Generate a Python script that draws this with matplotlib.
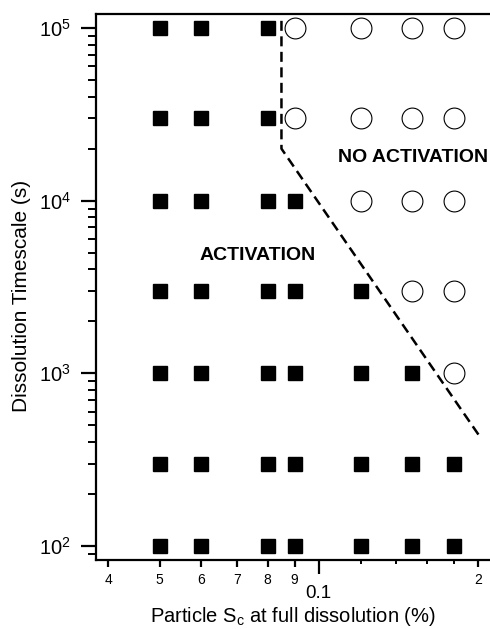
import numpy as np
import matplotlib
matplotlib.use('Agg')
import matplotlib.pyplot as plt
from matplotlib.ticker import FixedLocator, FixedFormatter, LogLocator, NullFormatter

plt.rcParams['font.family'] = ['Liberation Sans', 'DejaVu Sans']

# particle Sc at full dissolution (%) and dissolution timescale (s)
sc_vals = [0.05, 0.06, 0.08, 0.09, 0.12, 0.15, 0.18]
timescales = [1e5, 3e4, 1e4, 3e3, 1e3, 300, 100]
# 1 = activation (filled square), 0 = no activation (open circle); rows follow timescales
activated = [
    [1, 1, 1, 0, 0, 0, 0],
    [1, 1, 1, 0, 0, 0, 0],
    [1, 1, 1, 1, 0, 0, 0],
    [1, 1, 1, 1, 1, 0, 0],
    [1, 1, 1, 1, 1, 1, 0],
    [1, 1, 1, 1, 1, 1, 1],
    [1, 1, 1, 1, 1, 1, 1],
]
# boundary between the two regimes
boundary_x = [0.085, 0.085, 0.2017]
boundary_y = [1.1e5, 2.0e4, 430]

x_lab_ticks = [0.04, 0.05, 0.06, 0.07, 0.08, 0.09, 0.2]
x_lab_text = ['4', '5', '6', '7', '8', '9', '2']
x_short_ticks = [0.12, 0.14, 0.16, 0.18]

act_x, act_y, no_x, no_y = [], [], [], []
for i, t in enumerate(timescales):
    for j, s in enumerate(sc_vals):
        if activated[i][j]:
            act_x.append(s)
            act_y.append(t)
        else:
            no_x.append(s)
            no_y.append(t)

fig = plt.figure(figsize=(4.9, 6.29), dpi=100)
ax = fig.add_axes([96/490, 1-560/629, 1-96/490, (560-14)/629])
ax.set_xscale('log')
ax.set_yscale('log')
xlim = (0.0379, 0.2108)
ylim = (83, 1.205e5)
ax.set_xlim(*xlim)
ax.set_ylim(*ylim)

ax.plot(act_x, act_y, 's', color='black', markersize=9.4, linestyle='none', clip_on=False)
ax.plot(no_x, no_y, 'o', markerfacecolor='white', markeredgecolor='black',
        markersize=15, markeredgewidth=0.8, linestyle='none', clip_on=False)
ax.plot(boundary_x, boundary_y, color='black', linewidth=1.8, dashes=(4, 2.2))

ax.text(0.0765, 4800, 'ACTIVATION', fontsize=14, fontweight='bold', ha='center', va='center')
ax.text(0.1505, 1.79e4, 'NO ACTIVATION', fontsize=14, fontweight='bold', ha='center', va='center')

for sp in ['left', 'top', 'bottom']:
    ax.spines[sp].set_linewidth(1.6)
ax.spines['right'].set_visible(False)

# y axis
ax.yaxis.set_major_locator(FixedLocator([1e2, 1e3, 1e4, 1e5]))
ax.yaxis.set_major_formatter(FixedFormatter([r'$\mathregular{10^{%d}}$' % k for k in [2, 3, 4, 5]]))
ax.yaxis.set_minor_locator(LogLocator(base=10, subs=np.arange(2, 10)))
ax.yaxis.set_minor_formatter(NullFormatter())
ax.tick_params(axis='y', which='major', direction='out', length=11, width=1.6, pad=7, labelsize=14.5)
ax.tick_params(axis='y', which='minor', direction='out', length=6, width=1.4)

# x axis
ax.xaxis.set_major_locator(FixedLocator([0.1]))
ax.xaxis.set_major_formatter(FixedFormatter(['0.1']))
ax.xaxis.set_minor_locator(FixedLocator(x_lab_ticks))
ax.xaxis.set_minor_formatter(FixedFormatter(x_lab_text))
ax.tick_params(axis='x', which='major', direction='out', length=10, width=1.6, pad=8, labelsize=13.5)
ax.tick_params(axis='x', which='minor', direction='out', length=5, width=1.6, pad=4, labelsize=10)

# short unlabeled minor ticks
ax2 = ax.twiny()
ax2.set_xscale('log')
ax2.set_xlim(*xlim)
ax2.xaxis.set_ticks_position('bottom')
ax2.xaxis.set_major_locator(FixedLocator(x_short_ticks))
ax2.xaxis.set_major_formatter(NullFormatter())
ax2.xaxis.set_minor_locator(FixedLocator([]))
ax2.tick_params(axis='x', which='major', direction='out', length=3, width=1.4)
for sp in ax2.spines.values():
    sp.set_visible(False)

fig.text(22/490, 1-296/629, 'Dissolution Timescale (s)', rotation=90, fontsize=15,
         ha='center', va='center')
fig.text(293/490, 1-616/629, r'Particle S$\mathregular{_c}$ at full dissolution (%)', fontsize=14.5,
         ha='center', va='center')

fig.savefig('out.png', dpi=100)
